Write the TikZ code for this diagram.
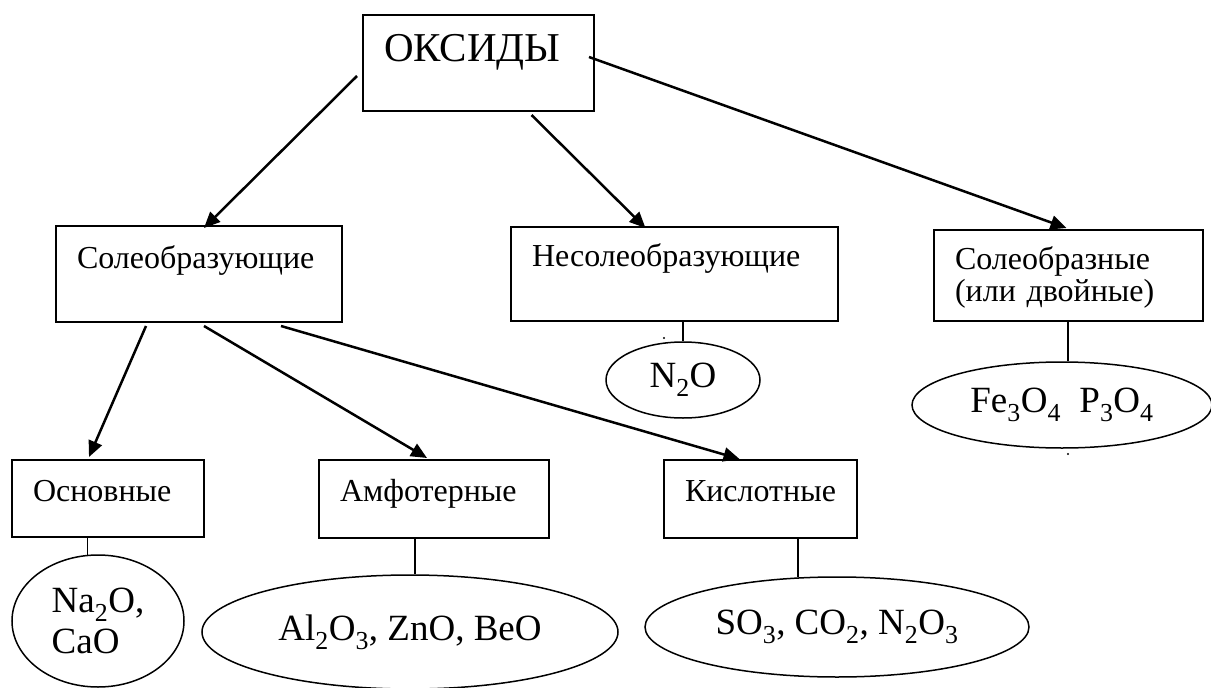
\documentclass[tikz,border=0pt]{standalone}
\usepackage{fontspec}
\setmainfont{Liberation Serif}
\usetikzlibrary{arrows.meta,shapes.geometric}

\begin{document}
\begin{tikzpicture}[x=1pt,y=-1pt,>={Triangle[length=16pt,width=14pt]},
	box/.style={draw,line width=2pt,anchor=north west,align=left,inner xsep=21pt,inner ysep=0pt,font=\fontsize{32}{32}\selectfont},
	oval/.style={draw,ellipse,line width=1.5pt,inner sep=0pt,font=\fontsize{37}{41}\selectfont},
	arr/.style={->,line width=2.5pt},
	stem/.style={line width=1.5pt}]
		\useasboundingbox (0,0) rectangle (1211,688);
		% boxes
		\node[box,text width=189pt,text height=46pt,text depth=50pt,font=\fontsize{41}{41}\selectfont] (oxides) at (362,14) {ОКСИДЫ};
		\node[box,text width=244pt,text height=42pt,text depth=54pt] (salt) at (55,225) {Солеобразующие};
		\node[box,text width=285pt,text height=39pt,text depth=55pt] (nonsalt) at (510,226) {Несолеобразующие};
		\node[box,text width=227pt,text height=39pt,text depth=52pt] (double) at (933,229) {Солеобразные\\(или двойные)};
		\node[box,text width=150pt,text height=41pt,text depth=36pt] (basic) at (11,459) {Основные};
		\node[box,text width=188pt,text height=41pt,text depth=37pt] (amph) at (318,459) {Амфотерные};
		\node[box,text width=151pt,text height=41pt,text depth=37pt] (acid) at (663,459) {Кислотные};
		% examples
		\node[oval,minimum width=154pt,minimum height=76pt] (n2o) at (683,380) {N\textsubscript{2}O};
		\node[oval,minimum width=300pt,minimum height=86pt] (mixed) at (1062,405) {Fe\textsubscript{3}O\textsubscript{4}\ \ P\textsubscript{3}O\textsubscript{4}};
		\node[oval,minimum width=172pt,minimum height=132pt,align=left] (basicex) at (98,621) {Na\textsubscript{2}O,\\CaO};
		\node[oval,minimum width=416pt,minimum height=114pt] (amphex) at (410,632) {Al\textsubscript{2}O\textsubscript{3}, ZnO, BeO};
		\node[oval,minimum width=384pt,minimum height=100pt] (acidex) at (837,627) {SO\textsubscript{3}, CO\textsubscript{2}, N\textsubscript{2}O\textsubscript{3}};
		% arrows
		\draw[arr] ([shift={(-5,13)}]oxides.west) -- ([shift={(5,3)}]salt.north);
		\draw[arr] ([shift={(53,3)}]oxides.south) -- ([shift={(-29,2)}]nonsalt.north);
		\draw[arr] ([shift={(-6,-6)}]oxides.east) -- ([shift={(-2,-1)}]double.north);
		\draw[arr] ([shift={(-53,3)}]salt.south) -- ([shift={(-19,-2)}]basic.north);
		\draw[arr] ([shift={(5,3)}]salt.south) -- ([shift={(-7,-1)}]amph.north);
		\draw[arr] ([shift={(82,3)}]salt.south) -- ([shift={(-21,0)}]acid.north);
		% stems
		\draw[stem] (nonsalt.south -| n2o.north) -- (n2o.north);
		\draw[stem] (double.south -| mixed.82) -- (mixed.82);
		\draw[stem] (basic.south -| basicex.99) -- (basicex.99);
		\draw[stem] (amph.south -| amphex.85) -- (amphex.85);
		\draw[stem] (acid.south -| acidex.128) -- (acidex.128);
		\fill (664,338) circle (1.2);
		\fill (1068,454) circle (1.2);
\end{tikzpicture}
\end{document}
